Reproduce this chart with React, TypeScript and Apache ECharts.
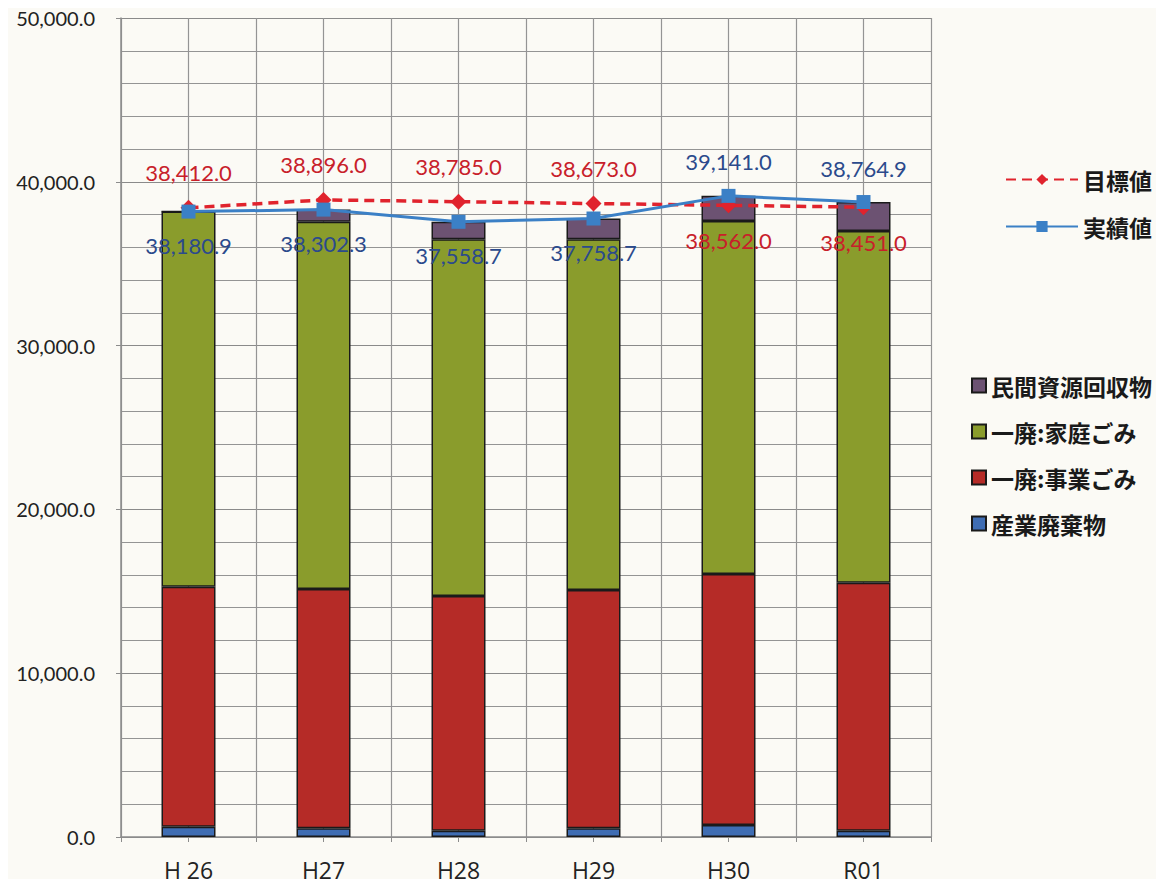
import React, { useEffect, useRef } from "react";
import * as echarts from "echarts";

const categories = ["H 26", "H27", "H28", "H29", "H30", "R01"];
const industrialWaste = [630, 530, 385, 530, 730, 385];
const businessWaste = [14650, 14610, 14325, 14550, 15330, 15135];
const householdWaste = [22900.9, 22420, 21780, 21410, 21540, 21480];
const privateRecovery = [0, 742.3, 1068.7, 1268.7, 1541, 1764.9];
const targetValues = [38412.0, 38896.0, 38785.0, 38673.0, 38562.0, 38451.0];
const actualValues = [38180.9, 38302.3, 37558.7, 37758.7, 39141.0, 38764.9];
const targetLabelPos = ["top", "top", "top", "top", "bottom", "bottom"];
const actualLabelPos = ["bottom", "bottom", "bottom", "bottom", "top", "top"];
const halfCategories = ["a", "b", "c", "d", "e", "f", "g", "h", "i", "j", "k", "l"];

const fmt = (v: number) =>
  v.toLocaleString("en-US", { minimumFractionDigits: 1, maximumFractionDigits: 1 });

export default function App() {
  const ref = useRef<HTMLDivElement>(null);
  useEffect(() => {
    if (!ref.current) return;
    const chart = echarts.init(ref.current, null, { renderer: "svg" });
    const numFont = "Lato";
    const legendText = { fontFamily: "Noto Sans CJK JP", fontSize: 23, fontWeight: "bold", color: "#1a1a1a" };
    const barBase = {
      type: "bar",
      stack: "total",
      barWidth: "40%",
      xAxisIndex: 0,
      itemStyle: { borderColor: "#1a1a1a", borderWidth: 1.5 },
    };
    chart.setOption({
      animation: false,
      backgroundColor: "#fbfaf5",
      grid: { left: 121, right: 233, top: 18, bottom: 50 },
      legend: [
        {
          data: ["目標値", "実績値"],
          orient: "vertical",
          left: 1000,
          top: 163,
          itemGap: 24,
          itemWidth: 72,
          itemHeight: 14,
          textStyle: legendText,
        },
        {
          data: ["民間資源回収物", "一廃:家庭ごみ", "一廃:事業ごみ", "産業廃棄物"],
          orient: "vertical",
          left: 966,
          top: 369,
          itemGap: 23,
          itemWidth: 14,
          itemHeight: 14,
          icon: "rect",
          textStyle: legendText,
        },
      ],
      xAxis: [
        {
          type: "category",
          data: categories,
          axisLine: { show: true, lineStyle: { color: "#8c8c8c", width: 1.5 } },
          axisTick: { show: false },
          splitLine: { show: false },
          axisLabel: { fontFamily: "Open Sans", fontSize: 23, color: "#222", margin: 21 },
        },
        {
          type: "category",
          data: halfCategories,
          position: "bottom",
          axisLine: { show: false },
          axisTick: { show: true, length: 5, lineStyle: { color: "#8c8c8c" } },
          axisLabel: { show: false },
          splitLine: { show: true, lineStyle: { color: "#949494", width: 1.2 } },
        },
      ],
      yAxis: {
        type: "value",
        min: 0,
        max: 50000,
        interval: 10000,
        axisLine: { show: true, lineStyle: { color: "#8c8c8c", width: 1.5 } },
        axisTick: { show: true, length: 5, lineStyle: { color: "#8c8c8c" } },
        axisLabel: { fontFamily: numFont, fontSize: 20, color: "#222", margin: 26, formatter: (v: number) => fmt(v) },
        splitLine: { show: true, lineStyle: { color: "#8a8a8a", width: 1.2 } },
        minorTick: { show: false, splitNumber: 5 },
        minorSplitLine: { show: true, lineStyle: { color: "#949494", width: 1.2 } },
      },
      series: [
        { ...barBase, name: "産業廃棄物", data: industrialWaste, itemStyle: { ...barBase.itemStyle, color: "#3f6db3" } },
        { ...barBase, name: "一廃:事業ごみ", data: businessWaste, itemStyle: { ...barBase.itemStyle, color: "#b52b27" } },
        { ...barBase, name: "一廃:家庭ごみ", data: householdWaste, itemStyle: { ...barBase.itemStyle, color: "#8a9c2c" } },
        { ...barBase, name: "民間資源回収物", data: privateRecovery, itemStyle: { ...barBase.itemStyle, color: "#6c5272" } },
        {
          type: "line",
          name: "目標値",
          xAxisIndex: 0,
          z: 5,
          data: targetValues.map((v, i) => ({ value: v, label: { position: targetLabelPos[i] } })),
          symbol: "diamond",
          symbolSize: 16,
          lineStyle: { color: "#e0232d", width: 3.5, type: [10, 6] },
          itemStyle: { color: "#e0232d" },
          label: {
            show: true,
            distance: 16,
            fontFamily: numFont,
            fontSize: 22,
            color: "#c8202a",
            formatter: (p: any) => fmt(p.value),
          },
        },
        {
          type: "line",
          name: "実績値",
          xAxisIndex: 0,
          z: 6,
          data: actualValues.map((v, i) => ({ value: v, label: { position: actualLabelPos[i] } })),
          symbol: "rect",
          symbolSize: 14,
          lineStyle: { color: "#3b80c6", width: 3 },
          itemStyle: { color: "#3b80c6" },
          label: {
            show: true,
            distance: 16,
            fontFamily: numFont,
            fontSize: 22,
            color: "#2b4a8c",
            formatter: (p: any) => fmt(p.value),
          },
        },
      ],
    });
    return () => chart.dispose();
  }, []);
  return <div ref={ref} style={{ width: 1164, height: 887, margin: -8 }} />;
}
